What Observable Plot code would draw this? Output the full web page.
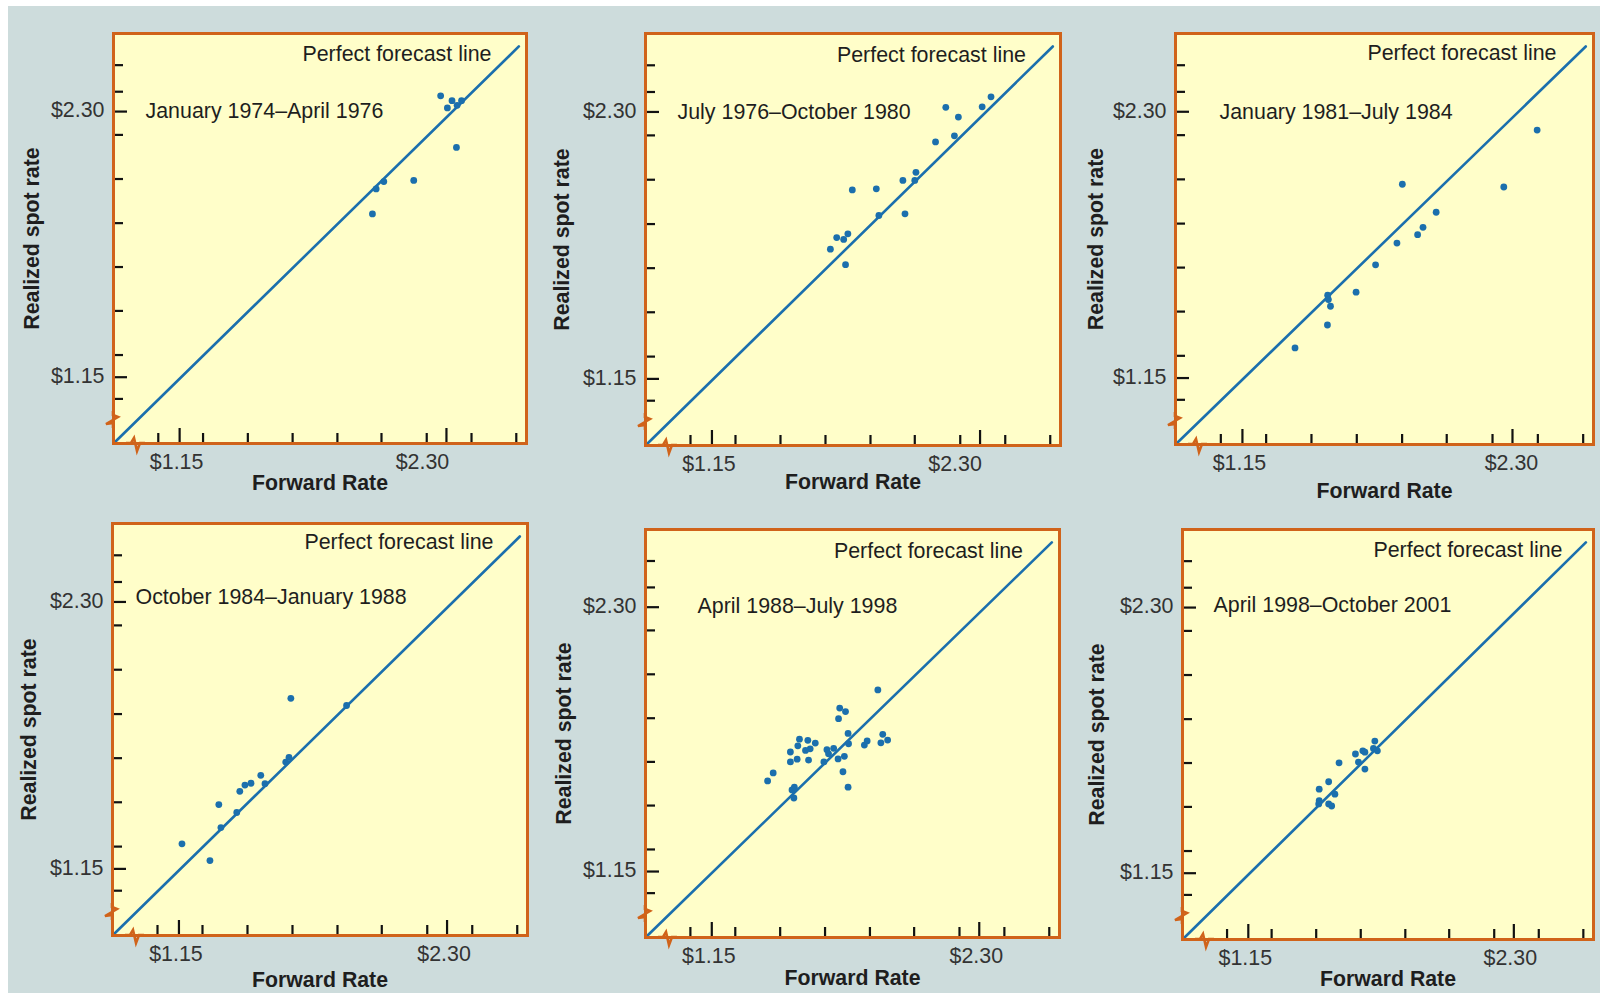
<!DOCTYPE html>
<html><head><meta charset="utf-8">
<script src="https://cdn.jsdelivr.net/npm/d3@7"></script>
<script src="https://cdn.jsdelivr.net/npm/@observablehq/plot@0.6"></script>
<style>
html,body{margin:0;padding:0;background:#fff;}
#page{position:relative;width:1600px;height:993px;overflow:hidden;background:#fff;}
#bg{position:absolute;left:8px;top:6px;right:0;bottom:0;background:#cddcdc;}
.panel{position:absolute;}
</style></head><body><div id="page"><div id="bg"></div></div>
<script>
// ---------- data ----------
const periods = [
  "January 1974\u2013April 1976",
  "July 1976\u2013October 1980",
  "January 1981\u2013July 1984",
  "October 1984\u2013January 1988",
  "April 1988\u2013July 1998",
  "April 1998\u2013October 2001"
];
const forward1974 = [2.275, 2.324, 2.365, 2.304, 2.346, 2.343, 2.030, 1.997, 1.981, 2.159];
const spot1974    = [2.368, 2.347, 2.347, 2.316, 2.327, 2.145, 1.997, 1.965, 1.857, 2.002];
const forward1976 = [2.347, 2.309, 2.153, 2.207, 2.190, 2.109, 2.025, 2.020, 1.969, 1.855, 1.752, 1.866, 1.978, 1.733, 1.715, 1.685, 1.658, 1.723];
const spot1976    = [2.365, 2.322, 2.320, 2.278, 2.197, 2.171, 2.040, 2.005, 2.005, 1.969, 1.964, 1.854, 1.861, 1.775, 1.751, 1.759, 1.709, 1.642];
const forward1981 = [2.405, 2.263, 1.831, 1.975, 1.919, 1.896, 1.808, 1.717, 1.634, 1.513, 1.516, 1.525, 1.512, 1.374];
const spot1981    = [2.221, 1.975, 1.987, 1.866, 1.801, 1.769, 1.733, 1.639, 1.521, 1.508, 1.489, 1.460, 1.379, 1.280];
const forward1984 = [1.630, 1.869, 1.622, 1.608, 1.501, 1.519, 1.459, 1.433, 1.411, 1.321, 1.398, 1.330, 1.163, 1.283];
const spot1984    = [1.885, 1.854, 1.630, 1.610, 1.553, 1.517, 1.519, 1.511, 1.484, 1.427, 1.393, 1.328, 1.258, 1.186];
const forward1988 = [1.864, 1.700, 1.725, 1.695, 1.736, 1.885, 1.906, 1.877, 1.818, 1.806, 1.738, 1.527, 1.563, 1.595, 1.520, 1.573, 1.553, 1.488, 1.645, 1.674, 1.652, 1.720, 1.693, 1.517, 1.488, 1.566, 1.632, 1.714, 1.414, 1.390, 1.736, 1.505, 1.495, 1.503];
const spot1988    = [1.940, 1.861, 1.846, 1.815, 1.751, 1.747, 1.722, 1.710, 1.718, 1.700, 1.706, 1.726, 1.721, 1.709, 1.697, 1.684, 1.677, 1.670, 1.680, 1.686, 1.662, 1.651, 1.640, 1.639, 1.627, 1.635, 1.627, 1.584, 1.579, 1.544, 1.517, 1.517, 1.505, 1.470];
const forward1998 = [1.698, 1.646, 1.655, 1.614, 1.692, 1.709, 1.627, 1.655, 1.543, 1.498, 1.457, 1.525, 1.457, 1.455, 1.498, 1.511];
const spot1998    = [1.722, 1.680, 1.674, 1.666, 1.690, 1.680, 1.631, 1.601, 1.628, 1.546, 1.514, 1.492, 1.464, 1.450, 1.450, 1.441];

const tickValues = [1.15, 2.30];
const tickLabels = ["$1.15", "$2.30"];
const xMinorTicks = [1.058, 1.251, 1.444, 1.637, 1.830, 2.020, 2.215, 2.408, 2.601];
const yMinorTicks = [1.056, 1.246, 1.437, 1.627, 1.817, 2.008, 2.199, 2.386, 2.501];
const perfectLineX = [0.865, 2.612];
const perfectLineY = [0.863, 2.582];
const xTitle = "Forward Rate";
const yTitle = "Realized spot rate";
const lineLabel = "Perfect forecast line";

const forwards = [forward1974, forward1976, forward1981, forward1984, forward1988, forward1998];
const spots = [spot1974, spot1976, spot1981, spot1984, spot1988, spot1998];

// ---------- layout / style ----------
const X_DOMAIN = [0.865, 2.645];
const Y_DOMAIN = [0.863, 2.638];
const YELLOW = "#fffec9", ORANGE = "#d0631a", BLUE = "#1b6fad", INK = "#1e1e1e", TICKTXT = "#333";
const FONT = "'Liberation Sans', Arial, Helvetica, sans-serif";
const FS = 21.4, FSB = 21.3;
const layout = [
  {left: 113,  top: 33,  w: 413, h: 410, periodDx: 32, periodDy: 0,  lineDx: 35, lineBase: 27.5, xTitleDy: 39.5, yTitleDx: 81.5, shift230: -24},
  {left: 645,  top: 33,  w: 415, h: 412, periodDx: 32, periodDy: 0,  lineDx: 34.5, lineBase: 28, xTitleDy: 37,  yTitleDx: 83, shift230: -25},
  {left: 1175, top: 33,  w: 418, h: 411, periodDx: 44, periodDy: 0,  lineDx: 37, lineBase: 26.5, xTitleDy: 47,  yTitleDx: 79, shift230: -1},
  {left: 112,  top: 523, w: 415, h: 412, periodDx: 23, periodDy: -5, lineDx: 34, lineBase: 25.5, xTitleDy: 45,  yTitleDx: 83, shift230: -3},
  {left: 645,  top: 529, w: 414, h: 408, periodDx: 52, periodDy: -1.5, lineDx: 36.5, lineBase: 28.3, xTitleDy: 41, yTitleDx: 81, shift230: -3},
  {left: 1182, top: 529, w: 411, h: 410, periodDx: 31, periodDy: -2, lineDx: 31, lineBase: 27, xTitleDy: 40,  yTitleDx: 85, shift230: -3.5}
];
const ML = 120, MR = 12, MT = 12, MB = 66;
const zigLeft = [[0,-32],[0,-28],[5,-26],[-7,-19],[0,-20],[0,-15]];
const zigBottom = [[13,0],[18,0],[21,-5],[24,8],[27,0],[32,0]];

const page = document.getElementById("page");

layout.forEach((L, i) => {
  const kx = L.w / (X_DOMAIN[1] - X_DOMAIN[0]);
  const ky = L.h / (Y_DOMAIN[1] - Y_DOMAIN[0]);
  const X0 = X_DOMAIN[0], Y0 = Y_DOMAIN[0];
  const pts = forwards[i].map((f, j) => ({forward: f, spot: spots[i][j]}));
  const linePts = perfectLineX.map((x, j) => ({x, y: perfectLineY[j]}));
  const tickStyle = {stroke: "#111", strokeWidth: 2.2};
  const svg = Plot.plot({
    width: L.w + ML + MR, height: L.h + MT + MB,
    marginLeft: ML, marginRight: MR, marginTop: MT, marginBottom: MB,
    x: {domain: X_DOMAIN, axis: null},
    y: {domain: Y_DOMAIN, axis: null},
    style: {fontFamily: FONT, fontSize: FS + "px", background: "transparent", overflow: "visible"},
    marks: [
      Plot.frame({fill: YELLOW}),
      Plot.ruleY(yMinorTicks, {y: d => d, x1: X0, x2: X0 + 10 / kx, ...tickStyle}),
      Plot.ruleY(tickValues, {y: d => d, x1: X0, x2: X0 + 14 / kx, ...tickStyle}),
      Plot.ruleX(xMinorTicks, {x: d => d, y1: Y0, y2: Y0 + 10 / ky, ...tickStyle}),
      Plot.ruleX(tickValues, {x: d => d, y1: Y0, y2: Y0 + 15 / ky, ...tickStyle}),
      Plot.line(linePts, {x: "x", y: "y", stroke: BLUE, strokeWidth: 2.6}),
      Plot.dot(pts, {x: "forward", y: "spot", r: 3.4, fill: BLUE, stroke: "none"}),
      Plot.text(tickValues, {y: d => d, text: tickLabels, frameAnchor: "left", textAnchor: "end", lineAnchor: "middle", dx: -9, dy: -1, fontSize: FS, fill: TICKTXT}),
      Plot.text([tickValues[0]], {x: d => d, text: [tickLabels[0]], frameAnchor: "bottom", textAnchor: "middle", lineAnchor: "middle", dx: -3, dy: 18.5, fontSize: FS, fill: TICKTXT}),
      Plot.text([tickValues[1]], {x: d => d, text: [tickLabels[1]], frameAnchor: "bottom", textAnchor: "middle", lineAnchor: "middle", dx: L.shift230, dy: 18.5, fontSize: FS, fill: TICKTXT}),
      Plot.text([xTitle], {frameAnchor: "bottom", textAnchor: "middle", lineAnchor: "middle", dy: L.xTitleDy, fontSize: FSB, fontWeight: "bold", fill: INK}),
      Plot.text([yTitle], {frameAnchor: "left", textAnchor: "middle", lineAnchor: "middle", rotate: -90, dx: -L.yTitleDx, fontSize: FSB, fontWeight: "bold", fill: INK}),
      Plot.text([lineLabel], {frameAnchor: "top-right", textAnchor: "end", lineAnchor: "bottom", dx: -L.lineDx, dy: L.lineBase, fontSize: FS, fill: INK}),
      Plot.text([periods[i]], {y: [tickValues[1]], frameAnchor: "left", textAnchor: "start", lineAnchor: "middle", dx: L.periodDx, dy: L.periodDy, fontSize: FS, fill: INK}),
      Plot.frame({stroke: ORANGE, strokeWidth: 3})
    ]
  });
  const s = d3.select(svg);
  const bx = ML, by = MT + L.h;
  const line = d3.line();
  s.append("path").attr("d", line(zigLeft.map(([dx, dy]) => [bx + dx, by + dy])))
    .attr("fill", "none").attr("stroke", ORANGE).attr("stroke-width", 2.6).attr("stroke-linejoin", "miter");
  s.append("path").attr("d", line(zigBottom.map(([dx, dy]) => [bx + dx, by + dy])))
    .attr("fill", "none").attr("stroke", ORANGE).attr("stroke-width", 2.6).attr("stroke-linejoin", "miter");
  svg.classList.add("panel");
  svg.style.left = (L.left - ML) + "px";
  svg.style.top = (L.top - MT) + "px";
  page.appendChild(svg);
});
</script>
</body></html>
